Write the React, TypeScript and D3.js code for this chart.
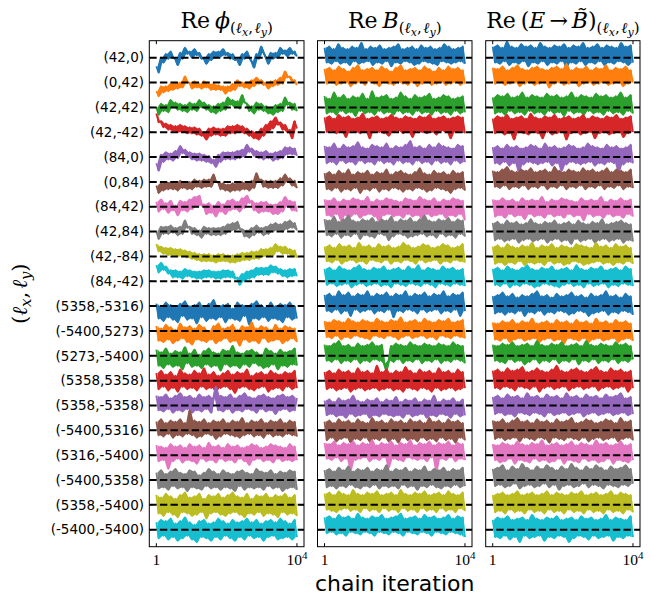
import React from "react";
import * as d3 from "d3";

// Row (mode) labels, top to bottom
const rowLabels = [
  "(42,0)", "(0,42)", "(42,42)", "(42,-42)", "(84,0)", "(0,84)", "(84,42)", "(42,84)", "(42,-84)", "(84,-42)",
  "(5358,-5316)", "(-5400,5273)", "(5273,-5400)", "(5358,5358)", "(5358,-5358)", "(-5400,5316)", "(5316,-5400)",
  "(-5400,5358)", "(5358,-5400)", "(-5400,-5400)",
];

const xTickValues = [1, 10000];
const iterFirst = 1;
const iterLast = 10000;

// Thinned chain samples per mode; values are offsets from the dashed reference line,
// in units of 1/20 of the row spacing (positive = up)
const phiTraces: number[][] = [
  [-7,-12,0,-4,3,-1,5,0,-1,-6,4,-1,8,3,5,0,7,2,4,-1,0,-5,3,-2,5,0,5,1,7,2,4,-1,3,-2,-1,-6,3,-1,5,0,-3,-8,3,-1,9,4,0,-5,4,-1,4,0,8,3,6,1,8,3,5,1],
  [-7,-11,-3,-8,-3,-7,-1,-6,0,-5,0,-4,5,0,0,-5,1,-4,-1,-5,1,-4,-1,-6,-1,-6,-2,-6,-3,-9,-3,-7,-1,-6,2,-3,0,-4,0,-5,2,-3,4,-1,2,-2,0,-5,1,-3,2,-2,4,-1,9,4,5,1,2,-2],
  [0,-6,3,-3,2,-4,6,0,4,-2,3,-3,2,-4,4,-2,3,-3,6,0,4,-2,2,-4,1,-5,3,-3,4,-2,8,2,6,0,5,-1,10,4,3,-3,1,-5,4,-2,3,-3,1,-5,0,-6,2,-4,3,-3,8,2,4,-2,3,-3],
  [15,8,9,4,7,2,6,1,5,0,6,0,5,-1,4,-1,4,-2,3,-3,0,-6,3,-3,4,-2,3,-3,3,-3,5,-1,5,-1,6,0,5,-1,3,-3,1,-5,0,-6,3,-3,6,0,9,3,12,6,8,2,6,0,2,-5,9,3],
  [-5,-11,2,-4,4,-2,3,-3,5,-1,9,3,6,0,4,-2,3,-3,3,-3,2,-4,1,-5,-2,-8,2,-4,4,-2,4,-2,4,-2,5,-1,6,0,10,4,7,1,5,-1,4,-2,5,-1,3,-3,4,-2,5,-1,8,2,8,2,7,1],
  [-3,-9,-1,-7,0,-6,0,-6,-1,-7,1,-5,0,-6,0,-6,2,-4,1,-5,2,-4,2,-4,6,0,0,-6,-1,-7,-2,-8,-1,-7,-1,-7,0,-6,-1,-7,1,-5,7,1,2,-4,1,-5,1,-5,1,-5,3,-3,6,0,3,-3,1,-5],
  [4,-4,6,-2,3,-5,5,-3,1,-7,5,-3,4,-4,6,-2,8,0,9,1,2,-6,3,-5,1,-8,4,-4,2,-6,5,-3,6,-2,4,-4,7,-1,9,3,5,-3,3,-5,4,-4,4,-4,2,-6,2,-6,4,-4,8,0,5,-3,4,-4],
  [0,-6,4,-2,4,-2,5,-1,3,-3,4,-2,9,3,4,-2,3,-3,1,-5,4,-2,3,-3,3,-3,3,-3,4,-2,6,0,7,1,8,2,2,-4,1,-5,3,-3,5,-1,3,-3,4,-2,6,0,7,1,6,0,8,2,9,3,7,1],
  [10,4,8,2,7,1,7,1,6,0,6,0,5,-1,4,-2,3,-3,2,-4,2,-4,2,-4,1,-5,2,-4,2,-4,1,-5,1,-5,2,-4,3,-3,3,-3,4,-2,4,-2,6,0,6,0,7,1,10,4,8,2,8,2,6,0,5,-1],
  [13,7,15,9,12,6,9,3,9,3,8,2,10,4,9,3,8,2,8,2,9,3,9,3,8,2,8,2,9,3,9,3,8,2,3,-3,6,0,8,2,9,3,11,5,11,5,11,5,13,7,12,6,10,4,9,3,10,4,10,4],
  [2,-10,0,-12,3,-9,1,-11,-1,-13,2,-8,4,-11,0,-10,1,-14,3,-9,-1,-12,2,-10,5,-11,0,-9,1,-13,2,-10,-2,-11,3,-12,1,-8,0,-15,2,-10,4,-11,1,-9,-1,-12,3,-10,0,-11,2,-13,1,-9,3,-11,0,-10],
  [4,-8,2,-9,5,-7,3,-10,1,-8,6,-6,3,-9,4,-11,2,-7,5,-8,3,-9,0,-7,4,-10,6,-8,2,-6,3,-9,5,-8,1,-12,4,-7,3,-9,7,-8,2,-10,4,-6,3,-9,1,-8,5,-7,2,-10,4,-8,3,-6,2,-9],
  [5,-8,3,-10,6,-7,2,-9,4,-8,3,-11,7,-6,2,-9,5,-8,1,-10,4,-7,6,-9,3,-8,2,-12,5,-7,4,-9,8,-8,3,-10,2,-7,4,-9,5,-6,3,-8,1,-10,6,-9,4,-7,2,-11,5,-8,3,-9,4,-7,6,-8],
  [6,-7,8,-5,5,-8,7,-6,4,-9,9,-5,6,-7,5,-6,8,-8,6,-5,10,-7,5,-6,7,-9,4,-6,6,-5,8,-7,5,-10,7,-6,6,-5,9,-7,4,-8,6,-6,7,-5,5,-9,8,-7,6,-6,5,-8,7,-5,6,-7,8,-6],
  [8,-4,7,-5,9,-3,6,-6,8,-4,10,-5,7,-3,8,-6,6,-4,9,-5,7,-3,8,-6,6,15,-4,8,-5,7,-3,9,-6,6,-4,8,-5,10,-3,7,-4,6,-6,8,-3,9,-5,7,-4,6,-7,8,-4,9,-3,7,-5,8,-4,6],
  [7,-4,9,-5,6,-3,8,-6,7,-4,9,-5,6,-3,16,-4,8,-6,7,-5,9,-3,6,-4,8,-7,7,-5,9,-3,6,-4,8,-5,7,-6,10,-4,6,-3,8,-5,7,-4,9,-6,6,-3,8,-5,7,-4,9,-5,6,-3,8,-4,7,-5],
  [8,-5,7,-4,6,-11,9,-5,7,-3,8,-6,6,-4,9,-5,7,-7,8,-3,6,-5,10,-4,7,-6,8,-3,6,-5,9,-4,7,-6,8,-3,6,-5,7,-8,9,-4,8,-3,6,-5,7,-4,9,-6,8,-3,7,-5,6,-4,9,-5,7,-4],
  [6,-7,8,-6,5,-8,7,-5,9,-7,6,-6,5,-9,8,-6,7,-7,4,-8,6,-5,9,-7,7,-6,5,-8,8,-6,6,-7,5,-9,7,-5,8,-8,6,-6,5,-7,9,-6,7,-8,6,-5,8,-7,5,-6,7,-9,6,-7,8,-6,7,-8],
  [8,-7,6,-9,9,-6,7,-8,5,-10,8,-6,10,-7,6,-9,7,-8,9,-6,5,-11,8,-7,7,-6,9,-8,6,-9,8,-7,10,-6,7,-8,6,-10,9,-7,5,-8,8,-6,7,-9,9,-7,6,-8,8,-10,7,-6,9,-8,6,-7,8,-9],
  [6,-7,8,-5,7,-8,9,-6,5,-9,7,-7,10,-5,6,-8,4,-10,7,-6,8,-7,5,-9,6,-6,9,-8,7,-5,5,-7,8,-9,6,-6,7,-8,9,-5,6,-7,8,-6,5,-9,7,-6,8,-5,6,-8,9,-7,7,-6,5,-8,8,-6],
];

const bTraces: number[][] = [
  [8,-4,9,-5,7,-3,11,-5,8,-4,7,-6,9,-3,8,-5,12,-4,7,-3,9,-6,8,-4,10,-5,7,-3,8,-7,9,-4,11,-5,7,-3,8,-4,9,-6,7,-5,10,-3,8,-4,9,-5,7,-6,8,-3,11,-4,9,-5,7,-4,8,-3,9,-5],
  [11,-1,12,0,10,-2,13,-1,11,0,9,-3,12,-1,14,0,10,-2,11,1,12,-1,10,-3,13,0,11,-1,9,-2,12,0,14,-1,10,-2,11,0,12,-3,10,-1,13,0,11,-2,9,-1,12,0,10,-2,13,-1,11,0,12,-2,10,-1],
  [9,-5,7,-4,12,-6,8,-3,10,-5,7,-4,9,-7,8,-3,11,-5,7,-4,13,-6,8,-3,9,-5,10,-4,7,-6,8,-3,12,-5,9,-4,7,-6,10,-3,8,-5,9,-4,11,-6,7,-3,8,-5,10,-4,9,-6,7,-3,8,-5,9,-4],
  [12,0,13,1,11,-1,14,0,12,-4,13,1,11,0,12,-1,15,0,11,-5,12,1,13,0,11,-1,12,-3,14,0,12,1,11,-1,13,0,12,-4,11,1,13,0,12,-1,14,0,11,-2,12,1,13,0,11,-5,12,0,13,1,12,-1],
  [9,-5,8,-4,11,-6,7,-3,10,-5,8,-4,9,-6,12,-3,8,-5,7,-4,10,-6,9,-3,8,-5,11,-4,7,-6,9,-3,8,-5,10,-4,13,-6,8,-3,9,-5,7,-4,10,-6,8,-3,11,-5,9,-4,8,-6,7,-3,10,-5,9,-4],
  [7,-6,8,-7,6,-5,9,-8,7,-6,10,-7,6,-5,8,-9,7,-6,9,-7,6,-5,8,-8,7,-6,10,-7,6,-5,8,-6,9,-8,7,-6,6,-7,8,-5,11,-6,7,-8,6,-7,9,-5,7,-6,8,-7,6,-9,9,-6,7,-5,8,-7],
  [6,-7,5,-8,7,-6,4,-11,6,-7,5,-8,7,-6,6,-9,5,-7,8,-6,4,-8,6,-12,5,-7,7,-6,6,-8,5,-7,4,-9,7,-6,6,-8,5,-7,8,-10,6,-6,5,-8,7,-7,4,-6,6,-9,5,-7,7,-8,6,-6,5,-11],
  [10,-3,9,-4,12,-2,8,-5,10,-3,13,-4,9,-2,8,-6,10,-3,9,-4,11,-5,8,-2,10,-3,9,-7,12,-4,8,-2,10,-3,9,-5,11,-4,8,-3,10,-2,13,-4,9,-3,8,-5,10,-2,9,-4,11,-3,8,-5,10,-2,9,-4],
  [8,-4,9,-5,7,-3,10,-6,8,-4,9,-3,7,-5,11,-4,8,-6,9,-3,7,-4,10,-5,8,-3,9,-6,7,-4,8,-5,11,-3,9,-4,7,-6,8,-3,10,-5,9,-4,7,-3,8,-6,10,-4,9,-5,7,-3,8,-4,10,-5],
  [10,-3,11,-2,9,-4,12,-3,10,-2,9,-5,11,-3,13,-2,10,-4,9,-3,11,-2,10,-4,12,-3,9,-5,10,-2,11,-3,9,-4,12,-2,10,-3,13,-4,9,-2,11,-3,10,-5,9,-2,12,-3,10,-4,11,-2,9,-3,10,-4],
  [9,-4,10,-5,8,-3,12,-6,9,-4,11,-8,8,-3,10,-5,9,-4,12,-3,8,-6,10,-4,9,-5,11,-3,8,-9,10,-4,9,-5,12,-3,8,-4,10,-6,9,-3,11,-5,8,-4,10,-3,9,-6,12,-4,8,-5,10,-3,9,-8,11,-4],
  [8,-5,7,-6,9,-4,8,-7,7,-5,10,-6,8,-4,7,-5,9,-6,8,-7,7,-4,10,-5,8,-6,7,-4,9,-5,8,-7,11,-5,7,-4,8,-6,9,-5,7,-4,10,-6,8,-5,7,-7,9,-4,8,-5,10,-6,7,-4,8,-5,9,-6],
  [9,-4,8,-5,10,-3,12,-6,8,-4,9,-5,7,-3,10,-6,8,-4,9,-5,11,-3,8,-4,9,-6,-12,-4,8,-5,10,-3,9,-6,8,-4,11,-5,9,-3,8,-6,10,-4,9,-5,8,-3,10,-6,9,-4,8,-5,11,-3,9,-4,8,-6],
  [7,-7,8,-6,6,-8,9,-7,7,-6,8,-9,6,-7,10,-6,7,-8,8,-7,6,-6,12,-8,7,-7,9,-6,6,-8,8,-7,7,-9,11,-6,8,-7,6,-8,9,-6,7,-7,8,-9,6,-6,10,-8,7,-7,8,-6,6,-8,9,-7,7,-6],
  [4,-8,5,-7,3,-9,6,-8,4,-10,5,-7,8,-9,4,-8,3,-7,5,-10,4,-8,6,-9,3,-7,5,-8,4,-9,7,-8,3,-10,5,-7,4,-9,6,-8,3,-7,5,-10,4,-8,8,-9,3,-7,5,-8,4,-10,6,-7,3,-9,5,-8],
  [7,-8,8,-6,6,-9,9,-7,7,-6,8,-10,6,-7,9,-8,7,-6,6,-9,10,-7,7,-8,8,-6,6,-9,9,-7,7,-10,8,-6,6,-8,9,-7,7,-9,8,-6,6,-8,10,-7,7,-9,8,-6,6,-8,9,-7,7,-10,8,-6,6,-8],
  [10,-3,9,-4,11,-2,8,-5,10,-3,9,-12,11,-4,8,-3,10,-2,9,-5,12,-3,8,-4,10,-2,9,-10,11,-3,8,-4,10,-5,9,-2,12,-3,8,-4,10,-3,9,-5,11,-2,8,-13,10,-3,9,-4,11,-2,8,-5,10,-3,9,-4],
  [8,-6,9,-5,7,-7,10,-5,8,-6,11,-4,7,-6,9,-7,8,-5,10,-6,7,-4,9,-7,8,-5,12,-6,7,-5,9,-7,8,-4,10,-6,7,-5,9,-8,8,-5,11,-6,7,-4,9,-6,8,-7,10,-5,7,-6,9,-4,8,-6,10,-5],
  [9,-4,10,-5,8,-6,11,-4,9,-3,8,-5,12,-4,9,-6,8,-3,10,-5,9,-4,11,-6,8,-3,9,-5,10,-4,8,-6,12,-3,9,-5,8,-4,10,-6,9,-3,11,-5,8,-4,9,-6,10,-3,8,-5,11,-4,9,-6,8,-3,10,-5],
  [10,-3,11,-2,9,-4,12,-3,10,-5,11,-2,9,-3,13,-4,10,-2,9,-3,11,-5,10,-2,12,-3,9,-4,10,-2,11,-3,13,-5,9,-2,10,-3,11,-4,9,-2,12,-3,10,-5,11,-2,9,-3,10,-4,12,-2,9,-3,11,-4,10,-6],
];

const ebTraces: number[][] = [
  [9,-4,10,-5,8,-3,13,-6,9,-4,8,-5,11,-3,9,-7,10,-4,8,-5,12,-3,9,-6,8,-4,10,-5,9,-3,11,-8,8,-4,10,-5,9,-3,12,-6,8,-4,9,-5,11,-3,8,-6,10,-4,9,-5,8,-3,12,-4,9,-6,10,-4],
  [12,-1,11,0,13,-2,10,-1,12,0,14,-3,11,-1,10,0,12,-2,13,-1,11,0,10,-4,12,-1,13,0,11,-2,15,-1,10,0,12,-3,11,-1,13,0,10,-2,12,-1,11,0,14,-2,10,-1,12,0,11,-3,13,-1,10,0],
  [8,-5,10,-4,9,-6,11,-3,8,-5,9,-4,12,-6,8,-3,10,-5,9,-4,8,-6,11,-3,9,-5,10,-4,8,-7,9,-3,12,-5,8,-4,10,-6,9,-3,8,-5,11,-4,9,-6,10,-3,8,-5,9,-4,12,-6,8,-3,10,-5],
  [11,-1,13,0,12,-2,14,-1,11,-6,12,0,13,-1,11,-2,15,0,12,-1,11,-5,13,0,12,-2,14,-1,11,0,12,-6,13,-1,11,0,12,-2,14,-1,11,0,13,-5,12,-1,11,0,13,-2,12,-1,14,0,11,-4,12,-1,13,0],
  [8,-5,9,-6,7,-4,10,-7,8,-5,9,-12,7,-6,8,-4,10,-5,9,-6,7,-5,11,-4,8,-7,9,-5,7,-11,8,-6,10,-4,9,-5,7,-6,8,-5,11,-4,9,-7,8,-5,7,-6,10,-4,8,-5,9,-12,7,-6,8,-4,10,-5],
  [9,-4,8,-5,10,-3,12,-6,9,-4,8,-5,10,-3,9,-6,11,-4,8,-5,9,-3,10,-6,8,-4,12,-5,9,-3,8,-6,10,-4,9,-5,8,-3,11,-6,9,-4,10,-5,8,-3,9,-6,11,-4,8,-5,10,-3,9,-6,8,-4,10,-5],
  [6,-8,5,-7,7,-9,5,-6,6,-8,4,-7,7,-10,5,-6,6,-8,5,-7,8,-9,4,-6,6,-8,5,-7,7,-9,6,-6,5,-8,4,-7,7,-11,5,-6,6,-8,5,-7,8,-9,4,-6,6,-8,5,-7,7,-9,5,-6,6,-8],
  [7,-7,8,-6,6,-8,9,-7,7,-6,8,-9,6,-7,7,-6,10,-8,7,-7,6,-6,8,-9,7,-7,9,-6,6,-8,7,-7,8,-10,6,-6,9,-8,7,-7,6,-6,8,-9,7,-7,10,-6,6,-8,7,-7,8,-6,9,-9,7,-7,6,-8],
  [8,-6,9,-5,7,-7,10,-5,8,-6,7,-4,9,-7,8,-5,11,-6,7,-5,9,-7,8,-4,10,-6,7,-5,9,-7,8,-6,7,-4,10,-5,9,-7,8,-6,7,-5,11,-4,8,-6,9,-5,7,-7,10,-5,8,-6,9,-4,7,-6],
  [10,-3,11,-4,9,-2,12,-5,10,-3,9,-4,11,-2,13,-3,10,-5,9,-4,11,-2,10,-3,12,-4,9,-5,10,-3,11,-2,9,-4,13,-3,10,-5,9,-2,11,-4,10,-3,12,-2,9,-5,10,-3,11,-4,9,-2,12,-3,10,-4],
  [8,-6,9,-5,11,-7,8,-5,10,-6,7,-4,9,-8,8,-5,10,-6,12,-4,8,-7,9,-5,7,-6,10,-4,8,-5,9,-7,11,-6,8,-4,9,-5,7,-8,10,-6,8,-5,9,-4,12,-7,8,-5,9,-6,7,-4,10,-5,8,-7],
  [7,-7,6,-8,8,-6,7,-9,9,-7,6,-6,8,-8,7,-7,10,-6,6,-9,7,-7,8,-6,6,-8,9,-7,7,-10,8,-6,6,-7,9,-8,7,-6,8,-9,6,-7,10,-6,7,-8,8,-7,6,-6,9,-9,7,-7,8,-6,6,-8],
  [9,-4,8,-5,10,-6,9,-3,11,-5,8,-4,9,-7,10,-5,8,-3,12,-6,9,-4,8,-5,10,-3,9,-6,11,-4,8,-5,9,-3,10,-7,8,-4,12,-5,9,-3,8,-6,10,-4,9,-5,8,-3,11,-6,9,-4,10,-5,8,-3],
  [8,-6,9,-7,7,-5,10,-6,8,-8,9,-5,11,-6,7,-7,8,-5,10,-9,8,-6,7,-5,9,-7,12,-6,8,-5,7,-8,9,-6,10,-5,8,-7,7,-6,9,-5,11,-8,8,-6,7,-5,10,-7,8,-6,9,-5,7,-9,8,-6],
  [7,-7,8,-6,6,-8,9,-7,7,-9,8,-6,6,-7,10,-8,7,-6,8,-7,6,-9,9,-6,7,-8,8,-7,6,-6,10,-8,7,-7,8,-6,6,-9,9,-7,7,-6,8,-8,6,-7,9,-6,7,-8,8,-7,10,-6,6,-8,7,-7],
  [8,-7,7,-6,9,-8,6,-7,8,-6,10,-9,7,-6,8,-7,6,-8,9,-6,7,-7,8,-10,6,-6,9,-7,7,-8,8,-6,10,-7,6,-8,7,-6,9,-9,8,-7,6,-6,7,-8,9,-7,8,-6,6,-9,10,-7,7,-6,8,-8],
  [9,-4,8,-6,10,-5,9,-3,8,-7,11,-4,9,-5,8,-6,10,-3,9,-5,12,-4,8,-6,9,-5,10,-3,8,-7,9,-4,11,-5,8,-6,10,-3,9,-5,8,-4,12,-6,9,-5,10,-3,8,-7,9,-4,11,-5,8,-6,9,-4],
  [9,-5,10,-4,12,-6,8,-5,11,-3,9,-7,13,-5,10,-4,8,-6,11,-5,9,-3,12,-6,10,-4,8,-8,11,-5,9,-4,13,-6,10,-5,8,-3,11,-6,9,-4,12,-5,10,-7,8,-4,11,-5,9,-6,10,-4,12,-5,9,-3],
  [8,-6,9,-5,10,-7,8,-4,9,-6,11,-5,8,-7,9,-4,10,-6,8,-5,9,-7,11,-4,8,-6,10,-5,9,-7,8,-4,10,-6,9,-5,11,-7,8,-4,9,-6,10,-5,8,-7,9,-4,11,-6,8,-5,10,-7,9,-4,8,-6],
  [8,-6,10,-7,9,-5,11,-8,8,-6,9,-10,10,-5,8,-7,12,-6,9,-5,8,-9,10,-6,9,-7,11,-5,8,-6,9,-10,10,-7,8,-5,11,-6,9,-8,10,-5,8,-7,9,-6,12,-5,8,-9,10,-6,9,-7,8,-5,11,-6],
];

const W = 655;
const H = 595;
const plotTop = 40.7;
const plotBottom = 546.7;
const panelBounds = [
  [149.3, 304],
  [317.5, 472],
  [485.7, 640],
];
const rowUnits = 20;

const SERIF = "'DejaVu Serif', serif";
const SANS = "'DejaVu Sans', sans-serif";

function Title({ idx, cx }: { idx: number; cx: number }) {
  const fs = 22;
  const sub = 15;
  const subsub = 11;
  const subscript = (
    <>
      <tspan fontSize={sub} dy={5}>(</tspan>
      <tspan fontSize={sub} fontStyle="italic">ℓ</tspan>
      <tspan fontSize={subsub} fontStyle="italic" dy={2.5}>x</tspan>
      <tspan fontSize={sub} dy={-2.5}>,</tspan>
      <tspan fontSize={sub} fontStyle="italic" dx={1.5}>ℓ</tspan>
      <tspan fontSize={subsub} fontStyle="italic" dy={2.5}>y</tspan>
      <tspan fontSize={sub} dy={-2.5}>)</tspan>
    </>
  );
  return (
    <text x={cx} y={28} textAnchor="middle" fontFamily={SERIF} fontSize={fs} fill="#000">
      <tspan>Re</tspan>
      {idx === 0 && <tspan dx={5} fontStyle="italic">ϕ</tspan>}
      {idx === 1 && <tspan dx={5} fontStyle="italic">B</tspan>}
      {idx === 2 && (
        <>
          <tspan dx={5}>(</tspan>
          <tspan fontStyle="italic">E</tspan>
          <tspan dx={4}>→</tspan>
          <tspan dx={4} fontStyle="italic">B̃</tspan>
          <tspan>)</tspan>
        </>
      )}
      {subscript}
    </text>
  );
}

export default function App() {
  const y = d3.scaleLinear().domain([-0.684, 19.684]).range([plotTop, plotBottom]);
  const allTraces = [phiTraces, bTraces, ebTraces];
  const colors = d3.schemeCategory10;

  return (
    <svg
      width={W}
      height={H}
      viewBox={`0 0 ${W} ${H}`}
      style={{ position: "absolute", left: 0, top: 0, background: "#fff" }}
    >
      {panelBounds.map(([x0, x1], p) => {
        const x = d3.scaleLinear().domain([iterFirst - 500, iterLast + 500]).range([x0, x1]);
        const traces = allTraces[p];
        return (
          <g key={p}>
            <defs>
              <clipPath id={`clip${p}`}>
                <rect x={x0} y={plotTop} width={x1 - x0} height={plotBottom - plotTop} />
              </clipPath>
            </defs>
            <g clipPath={`url(#clip${p})`}>
              {traces.map((vals, r) => {
                const n = vals.length;
                const iterAt = (i: number) => iterFirst + (i * (iterLast - iterFirst)) / (n - 1);
                const line = d3
                  .line<number>()
                  .x((_, i) => x(iterAt(i)))
                  .y((v) => y(r - v / rowUnits));
                // range covered between consecutive samples (fills the dense trace)
                const pairIdx = d3.range(n - 1);
                const area = d3
                  .area<number>()
                  .x((i) => x(iterAt(i + 0.5)))
                  .y0((i) => y(r - Math.min(vals[i], vals[i + 1]) / rowUnits))
                  .y1((i) => y(r - Math.max(vals[i], vals[i + 1]) / rowUnits));
                return (
                  <g key={r}>
                    <path d={area(pairIdx) || ""} fill={colors[r % 10]} stroke="none" />
                    <path
                      d={line(vals) || ""}
                      fill="none"
                      stroke={colors[r % 10]}
                      strokeWidth={1.8}
                      strokeLinejoin="round"
                    />
                  </g>
                );
              })}
              {rowLabels.map((_, r) => (
                <line
                  key={r}
                  x1={x0}
                  x2={x1}
                  y1={y(r)}
                  y2={y(r)}
                  stroke="#000"
                  strokeWidth={2}
                  strokeDasharray="7.4 3.2"
                />
              ))}
            </g>
            {/* y ticks, inward on both sides */}
            {rowLabels.map((_, r) => (
              <g key={`yt${r}`}>
                <line x1={x0} x2={x0 + 3.5} y1={y(r)} y2={y(r)} stroke="#000" strokeWidth={1} />
                <line x1={x1} x2={x1 - 3.5} y1={y(r)} y2={y(r)} stroke="#000" strokeWidth={1} />
              </g>
            ))}
            {/* x ticks, inward top and bottom */}
            {xTickValues.map((t) => (
              <g key={`xt${t}`}>
                <line x1={x(t)} x2={x(t)} y1={plotBottom} y2={plotBottom - 3.5} stroke="#000" strokeWidth={1} />
                <line x1={x(t)} x2={x(t)} y1={plotTop} y2={plotTop + 3.5} stroke="#000" strokeWidth={1} />
                <text
                  x={x(t)}
                  y={565}
                  textAnchor="middle"
                  fontFamily="'Liberation Serif', serif"
                  fontSize={15.5}
                  fill="#000"
                >
                  {t === 1 ? (
                    "1"
                  ) : (
                    <>
                      <tspan>10</tspan>
                      <tspan fontSize={11} dy={-6}>4</tspan>
                    </>
                  )}
                </text>
              </g>
            ))}
            <rect x={x0} y={plotTop} width={x1 - x0} height={plotBottom - plotTop} fill="none" stroke="#000" strokeWidth={1} />
            <Title idx={p} cx={(x0 + x1) / 2} />
          </g>
        );
      })}
      {rowLabels.map((lab, r) => (
        <text
          key={lab}
          x={144}
          y={y(r)}
          dy="0.35em"
          textAnchor="end"
          fontFamily={SANS}
          fontSize={13.5}
          fill="#000"
        >
          {lab}
        </text>
      ))}
      <text
        transform={`translate(27,${(plotTop + plotBottom) / 2}) rotate(-90)`}
        textAnchor="middle"
        fontFamily={SERIF}
        fontSize={21}
        fill="#000"
      >
        <tspan>(</tspan>
        <tspan fontStyle="italic">ℓ</tspan>
        <tspan fontSize={15} fontStyle="italic" dy={4}>x</tspan>
        <tspan dy={-4}>,</tspan>
        <tspan fontStyle="italic" dx={3}>ℓ</tspan>
        <tspan fontSize={15} fontStyle="italic" dy={4}>y</tspan>
        <tspan dy={-4}>)</tspan>
      </text>
      <text x={394.7} y={591} textAnchor="middle" fontFamily={SANS} fontSize={22} fill="#000">
        chain iteration
      </text>
    </svg>
  );
}
